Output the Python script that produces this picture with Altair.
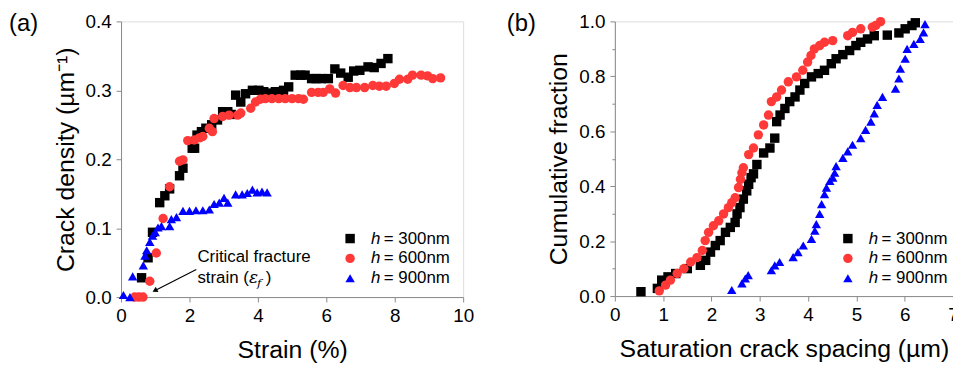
import altair as alt
import pandas as pd

FONT = "Liberation Sans"

# ---------------- Panel (a): crack density vs strain ----------------
a300_x = [0.60, 0.79, 0.92, 1.13, 1.28, 1.42, 1.71, 1.81, 2.08, 2.15, 2.22, 2.35, 2.48, 2.65, 2.82,
          2.97, 3.12, 3.22, 3.35, 3.50, 3.64, 3.84, 4.03, 4.17, 4.35, 4.51, 4.75, 4.90, 5.09, 5.25,
          5.38, 5.57, 5.70, 5.85, 6.06, 6.25, 6.42, 6.64, 6.80, 6.98, 7.22, 7.40, 7.60, 7.80]
a300_y = [0.028, 0.057, 0.094, 0.137, 0.147, 0.157, 0.176, 0.187, 0.216, 0.216, 0.235, 0.240, 0.245,
          0.250, 0.257, 0.269, 0.269, 0.265, 0.293, 0.283, 0.295, 0.300, 0.300, 0.298, 0.296, 0.298,
          0.300, 0.305, 0.322, 0.322, 0.322, 0.317, 0.317, 0.317, 0.317, 0.331, 0.325, 0.319, 0.328,
          0.329, 0.334, 0.333, 0.339, 0.346]

a600_x = [0.40, 0.52, 0.64, 0.84, 1.03, 1.23, 1.42, 1.71, 1.81, 1.95, 2.14, 2.29, 2.39, 2.58, 2.67,
          2.72, 2.97, 3.16, 3.41, 3.50, 3.79, 3.93, 4.07, 4.22, 4.41, 4.61, 4.80, 5.00, 5.19, 5.33,
          5.57, 5.76, 5.91, 6.10, 6.27, 6.49, 6.69, 6.88, 7.12, 7.36, 7.55, 7.75, 7.99, 8.14, 8.38,
          8.52, 8.77, 8.96, 9.11, 9.34]
a600_y = [0.0, 0.0, 0.0, 0.023, 0.064, 0.114, 0.160, 0.197, 0.199, 0.227, 0.228, 0.231, 0.233, 0.245,
          0.240, 0.259, 0.262, 0.264, 0.264, 0.267, 0.274, 0.283, 0.287, 0.288, 0.288, 0.288, 0.288,
          0.288, 0.288, 0.287, 0.297, 0.297, 0.297, 0.302, 0.296, 0.307, 0.304, 0.304, 0.304, 0.307,
          0.306, 0.306, 0.310, 0.316, 0.316, 0.322, 0.322, 0.321, 0.317, 0.318]

a900_x = [0.07, 0.26, 0.34, 0.65, 0.70, 0.75, 0.84, 0.92, 1.00, 1.08, 1.18, 1.42, 1.47, 1.62, 1.81,
          2.00, 2.19, 2.39, 2.58, 2.72, 2.87, 3.01, 3.12, 3.35, 3.54, 3.69, 3.84, 3.98, 4.12, 4.27]
a900_y = [0.003, 0.0, 0.030, 0.046, 0.060, 0.068, 0.080, 0.089, 0.094, 0.101, 0.103, 0.103, 0.113,
          0.116, 0.125, 0.125, 0.126, 0.126, 0.127, 0.135, 0.137, 0.144, 0.137, 0.149, 0.149, 0.151,
          0.156, 0.152, 0.153, 0.152]

# ---------------- Panel (b): cumulative fraction vs spacing ----------------
b300_x = [0.54, 0.88, 0.97, 1.10, 1.26, 1.50, 1.77, 1.88, 1.98, 2.08, 2.18, 2.29, 2.39, 2.49, 2.53,
          2.59, 2.66, 2.73, 2.77, 2.82, 2.87, 2.94, 3.08, 3.21, 3.31, 3.35, 3.42, 3.52, 3.62, 3.73,
          3.83, 3.93, 4.07, 4.21, 4.34, 4.48, 4.58, 4.72, 4.86, 4.99, 5.09, 5.23, 5.37, 5.64, 5.88,
          6.01, 6.15, 6.22]
b300_y = [0.016, 0.028, 0.058, 0.070, 0.082, 0.100, 0.112, 0.130, 0.160, 0.184, 0.202, 0.232, 0.250,
          0.268, 0.299, 0.322, 0.353, 0.383, 0.407, 0.431, 0.445, 0.479, 0.521, 0.539, 0.575, 0.635,
          0.659, 0.683, 0.708, 0.725, 0.750, 0.774, 0.798, 0.810, 0.822, 0.846, 0.864, 0.879, 0.894,
          0.912, 0.924, 0.936, 0.948, 0.950, 0.958, 0.973, 0.985, 0.995]

b600_x = [0.92, 1.05, 1.15, 1.29, 1.43, 1.57, 1.70, 1.81, 1.87, 1.94, 2.04, 2.15, 2.25, 2.35, 2.42,
          2.49, 2.56, 2.60, 2.63, 2.66, 2.77, 2.87, 2.97, 3.08, 3.18, 3.24, 3.35, 3.45, 3.59, 3.76,
          3.89, 3.99, 4.06, 4.13, 4.24, 4.34, 4.51, 4.82, 4.92, 5.09, 5.33, 5.40, 5.50]
b600_y = [0.019, 0.040, 0.058, 0.082, 0.100, 0.124, 0.140, 0.166, 0.202, 0.232, 0.256, 0.274, 0.299,
          0.322, 0.340, 0.358, 0.395, 0.425, 0.449, 0.467, 0.515, 0.539, 0.587, 0.623, 0.659, 0.708,
          0.725, 0.750, 0.780, 0.798, 0.822, 0.852, 0.876, 0.900, 0.912, 0.924, 0.930, 0.948, 0.960,
          0.973, 0.979, 0.985, 0.999]

b900_x = [2.42, 2.63, 2.70, 2.76, 3.24, 3.31, 3.41, 3.69, 3.79, 3.90, 4.07, 4.14, 4.17, 4.24, 4.28,
          4.34, 4.38, 4.45, 4.51, 4.55, 4.58, 4.72, 4.82, 4.92, 5.09, 5.19, 5.30, 5.37, 5.43, 5.54,
          5.81, 5.88, 5.91, 6.01, 6.05, 6.19, 6.32, 6.39, 6.42]
b900_y = [0.022, 0.046, 0.064, 0.076, 0.094, 0.112, 0.124, 0.142, 0.160, 0.184, 0.208, 0.238, 0.262,
          0.299, 0.335, 0.371, 0.395, 0.419, 0.431, 0.449, 0.473, 0.503, 0.527, 0.551, 0.575, 0.605,
          0.635, 0.665, 0.696, 0.725, 0.755, 0.792, 0.828, 0.864, 0.900, 0.918, 0.936, 0.960, 0.990]

series = ["300", "600", "900"]
legend_rest = ["= 300nm", "= 600nm", "= 900nm"]
shapes = ["square", "circle", "triangle-up"]
colors = ["#000000", "#ff3838", "#0000ff"]

x_ticks_a = list(range(0, 11))
y_ticks_a = [round(i * 0.05, 2) for i in range(0, 9)]
x_ticks_b = [round(i * 0.5, 1) for i in range(0, 15)]
y_ticks_b = [round(i * 0.1, 1) for i in range(0, 11)]

# annotation (panel a), in data units
arrow_tail = (2.20, 0.040)
arrow_head = (1.01, 0.010)


def frame(xs, ys):
    return pd.DataFrame({"x": xs, "y": ys})


def make_df(groups):
    parts = []
    for s, (xs, ys) in zip(series, groups):
        d = frame(xs, ys)
        d["series"] = s
        parts.append(d)
    return pd.concat(parts, ignore_index=True)


df_a = make_df([(a300_x, a300_y), (a600_x, a600_y), (a900_x, a900_y)])
df_b = make_df([(b300_x, b300_y), (b600_x, b600_y), (b900_x, b900_y)])

GRAY = "#8a8a8a"


def axis(values, major_test, title, fmt, title_pad, label_pad):
    return alt.Axis(
        values=values,
        title=title,
        format=fmt,
        labelExpr=f"({major_test}) ? datum.label : ''",
        tickSize={"condition": {"test": major_test, "value": 5}, "value": 3},
        labelFont=FONT, titleFont=FONT, labelFontSize=19, titleFontSize=25,
        titleFontWeight="normal", labelColor="black", titleColor="black",
        domainColor=GRAY, tickColor=GRAY, grid=False, labelOverlap=False,
        labelFlush=False, labelPadding=label_pad, titlePadding=title_pad,
    )


def panel(df, xdom, ydom, xvals, yvals, xtest, ytest, xtitle, ytitle, xfmt, yfmt, tag,
          tag_dx, legend_dx, text_dx):
    xenc = alt.X("x:Q", scale=alt.Scale(domain=xdom, nice=False, zero=False),
                 axis=axis(xvals, xtest, xtitle, xfmt, 12, 5))
    yenc = alt.Y("y:Q", scale=alt.Scale(domain=ydom, nice=False, zero=False),
                 axis=axis(yvals, ytest, ytitle, yfmt, 7, 5))
    pts = alt.Chart(df).mark_point(filled=True, opacity=1, size=90).encode(
        x=xenc, y=yenc,
        shape=alt.Shape("series:N", scale=alt.Scale(domain=series, range=shapes), legend=None),
        color=alt.Color("series:N", scale=alt.Scale(domain=series, range=colors), legend=None),
    )
    layers = [pts]
    rows = [219, 239, 259]
    for i, s in enumerate(series):
        ld = pd.DataFrame({"t": [legend_rest[i]]})
        layers.append(alt.Chart(ld).mark_point(filled=True, opacity=1, size=90,
                                               shape=shapes[i], color=colors[i])
                      .encode(x=alt.value(legend_dx), y=alt.value(rows[i])))
        layers.append(alt.Chart(ld).mark_text(text="h", font=FONT, fontSize=17, fontStyle="italic",
                                              align="left", baseline="middle", color="black")
                      .encode(x=alt.value(text_dx), y=alt.value(rows[i])))
        layers.append(alt.Chart(ld).mark_text(font=FONT, fontSize=17, align="left",
                                              baseline="middle", color="black")
                      .encode(text="t:N", x=alt.value(text_dx + 13), y=alt.value(rows[i])))
    tagdf = pd.DataFrame({"t": [tag]})
    layers.append(alt.Chart(tagdf).mark_text(font=FONT, fontSize=24, align="left",
                                             baseline="middle", color="black")
                  .encode(text="t:N", x=alt.value(tag_dx), y=alt.value(3)))
    return layers


layers_a = panel(df_a, [0, 10], [0, 0.4], x_ticks_a, y_ticks_a,
                 "round(datum.value) % 2 == 0", "round(datum.value*20) % 2 == 0",
                 "Strain (%)", "Crack density (µm⁻¹)", "d", ".1f", "(a)",
                 -113, 231, 252)

arrow_df = pd.DataFrame({"x": [arrow_tail[0]], "y": [arrow_tail[1]],
                         "x2": [arrow_head[0]], "y2": [arrow_head[1]]})
head_df = pd.DataFrame({"x": [arrow_head[0]], "y": [arrow_head[1]]})
arrow = alt.Chart(arrow_df).mark_rule(color="black", strokeWidth=1.2).encode(
    x=alt.X("x:Q"), y=alt.Y("y:Q"), x2="x2:Q", y2="y2:Q")
head = alt.Chart(head_df).mark_point(shape="triangle", filled=True, opacity=1, color="black",
                                     size=35, angle=243).encode(x="x:Q", y="y:Q")
ann1 = alt.Chart(pd.DataFrame({"t": ["Critical fracture"]})).mark_text(
    font=FONT, fontSize=17, align="left", baseline="middle", color="black").encode(
    text="t:N", x=alt.value(77), y=alt.value(238))
ann2 = alt.Chart(pd.DataFrame({"t": ["strain ("]})).mark_text(
    font=FONT, fontSize=17, align="left", baseline="middle", color="black").encode(
    text="t:N", x=alt.value(77), y=alt.value(259))
ann3 = alt.Chart(pd.DataFrame({"t": ["ε"]})).mark_text(
    font="DejaVu Serif", fontSize=17, fontStyle="italic", align="left", baseline="middle",
    color="black").encode(text="t:N", x=alt.value(129), y=alt.value(259))
ann4 = alt.Chart(pd.DataFrame({"t": ["f"]})).mark_text(
    font="DejaVu Serif", fontSize=12, fontStyle="italic", align="left", baseline="middle",
    color="black").encode(text="t:N", x=alt.value(137), y=alt.value(264))
ann5 = alt.Chart(pd.DataFrame({"t": [")"]})).mark_text(
    font=FONT, fontSize=17, align="left", baseline="middle", color="black").encode(
    text="t:N", x=alt.value(146), y=alt.value(259))

chart_a = alt.layer(*layers_a, arrow, head, ann1, ann2, ann3, ann4, ann5).properties(
    width=345, height=278)

layers_b = panel(df_b, [0, 7], [0, 1.0], x_ticks_b, y_ticks_b,
                 "round(datum.value*2) % 2 == 0", "round(datum.value*10) % 2 == 0",
                 "Saturation crack spacing (µm)", "Cumulative fraction", "d", ".1f",
                 "(b)", -109, 235, 256)
chart_b = alt.layer(*layers_b).properties(width=341, height=277)

chart = alt.hconcat(chart_a, chart_b, spacing=31).properties(
    padding={"left": 0, "top": 2, "right": -6, "bottom": 0}
).configure_view(stroke=GRAY, strokeWidth=1).configure(background="white")

chart.save("out.html", embed_options={"renderer": "svg", "actions": False})
